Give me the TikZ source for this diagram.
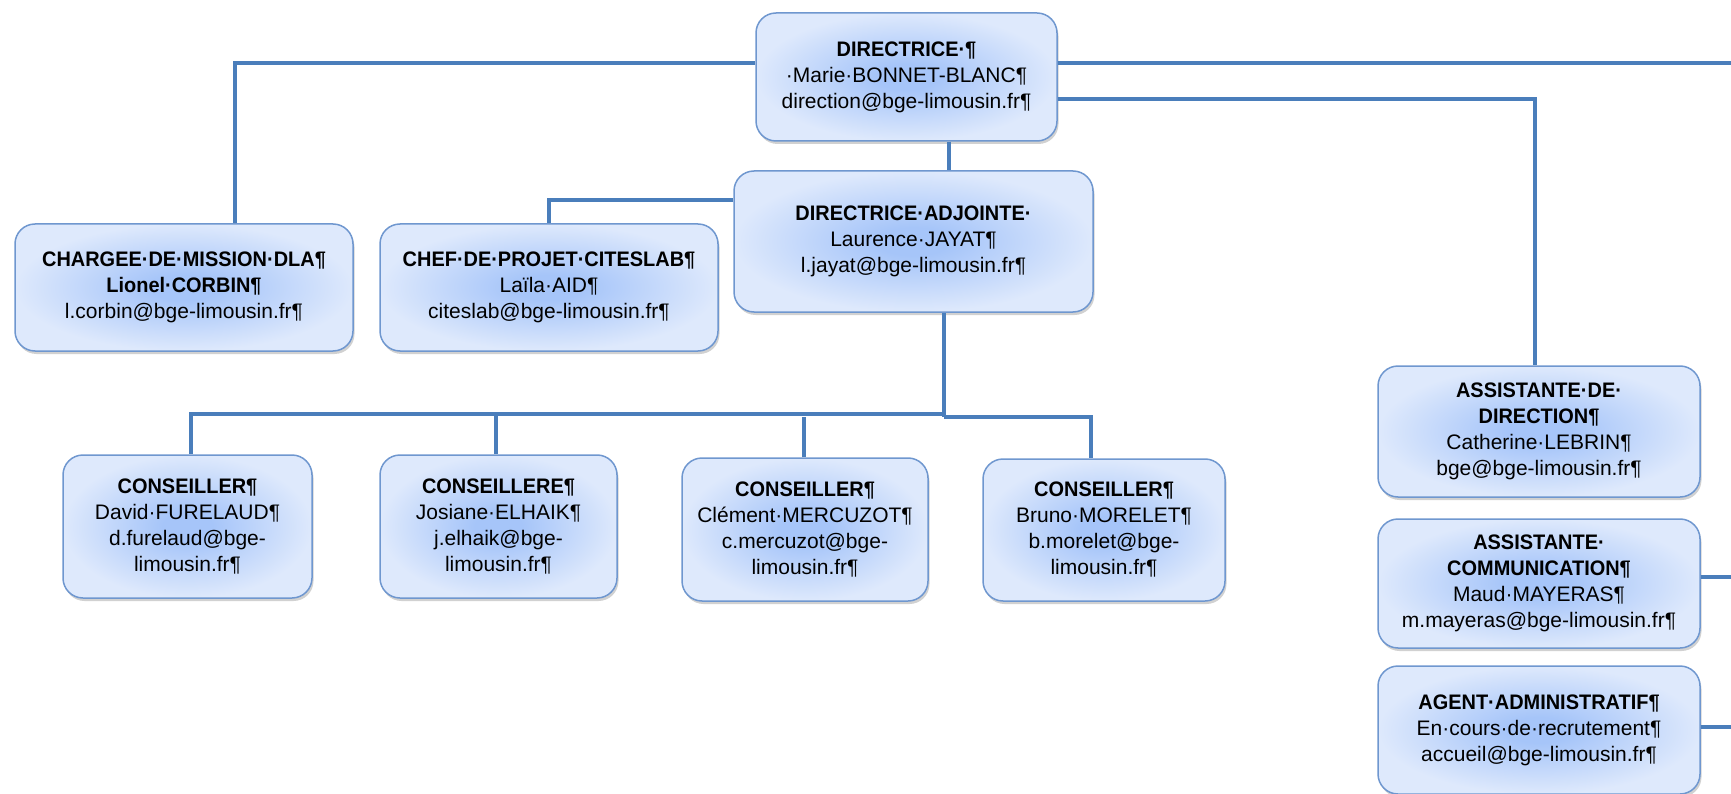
\documentclass[tikz,border=0pt]{standalone}
\usepackage{fontspec}
\setmainfont{Liberation Sans}[BoldFeatures={FakeStretch=0.95}]
\usetikzlibrary{shadows}
\definecolor{linkblue}{HTML}{4A7EBB}
\definecolor{boxedge}{HTML}{6F97CF}
\definecolor{boxin}{HTML}{A6C5F9}
\definecolor{boxout}{HTML}{DEE9FC}
\pgfdeclareradialshading{orgshade}{\pgfpoint{0bp}{0bp}}{color(0bp)=(boxin); color(5bp)=(boxin); color(25bp)=(boxout); color(50bp)=(boxout)}
\tikzset{
  orgbox/.style={draw=boxedge, line width=1.5pt, rounded corners=20pt,
    shading=orgshade, align=center, inner sep=0pt,
    font=\fontsize{21}{26}\selectfont,
    drop shadow={shadow xshift=1.5pt, shadow yshift=-3pt, opacity=0.3, fill=black!60}},
  link/.style={draw=linkblue, line width=4pt}
}
\begin{document}
\begin{tikzpicture}[x=1pt,y=-1pt]
\useasboundingbox (0,0) rectangle (1731,794);
% nodes
\node[orgbox, minimum width=301pt, minimum height=128pt] (dir) at (906.5,77)
  {\textbf{DIRECTRICE·¶}\\·Marie·BONNET-BLANC¶\\direction@bge-limousin.fr¶};
\node[orgbox, minimum width=359pt, minimum height=141pt] (da) at (913.5,241.5)
  {\textbf{DIRECTRICE·ADJOINTE·}\\Laurence·JAYAT¶\\l.jayat@bge-limousin.fr¶};
\node[orgbox, minimum width=338pt, minimum height=127pt] (cm) at (184,287.5)
  {\textbf{CHARGEE·DE·MISSION·DLA¶}\\\textbf{Lionel·CORBIN¶}\\l.corbin@bge-limousin.fr¶};
\node[orgbox, minimum width=338pt, minimum height=127pt] (cp) at (549,287.5)
  {\textbf{CHEF·DE·PROJET·CITESLAB¶}\\Laïla·AID¶\\citeslab@bge-limousin.fr¶};
\node[orgbox, minimum width=249pt, minimum height=143pt] (c1) at (187.5,526.5)
  {\textbf{CONSEILLER¶}\\David·FURELAUD¶\\d.furelaud@bge-\\limousin.fr¶};
\node[orgbox, minimum width=237pt, minimum height=143pt] (c2) at (498.5,526.5)
  {\textbf{CONSEILLERE¶}\\Josiane·ELHAIK¶\\j.elhaik@bge-\\limousin.fr¶};
\node[orgbox, minimum width=246pt, minimum height=143pt] (c3) at (805,529.5)
  {\textbf{CONSEILLER¶}\\Clément·MERCUZOT¶\\c.mercuzot@bge-\\limousin.fr¶};
\node[orgbox, minimum width=242pt, minimum height=142pt] (c4) at (1104,530)
  {\textbf{CONSEILLER¶}\\Bruno·MORELET¶\\b.morelet@bge-\\limousin.fr¶};
\node[orgbox, minimum width=322pt, minimum height=131pt] (ad) at (1539,431.5)
  {\textbf{ASSISTANTE·DE·}\\\textbf{DIRECTION¶}\\Catherine·LEBRIN¶\\bge@bge-limousin.fr¶};
\node[orgbox, minimum width=322pt, minimum height=129pt] (ac) at (1539,583.5)
  {\textbf{ASSISTANTE·}\\\textbf{COMMUNICATION¶}\\Maud·MAYERAS¶\\m.mayeras@bge-limousin.fr¶};
\node[orgbox, minimum width=322pt, minimum height=128pt] (ag) at (1539,730)
  {\textbf{AGENT·ADMINISTRATIF¶}\\En·cours·de·recrutement¶\\accueil@bge-limousin.fr¶};
% free ends
\coordinate (edgeA) at (1731,63);
\coordinate (edgeB) at (1731,577);
\coordinate (edgeC) at (1731,727);
\coordinate (bus) at (944,414);
\coordinate (busR) at (944,417);
% connectors
\draw[link] ([yshift=14pt]dir.west) -| ([xshift=51pt]cm.north);
\draw[link] ([yshift=14pt]dir.east) -- (edgeA);
\draw[link] ([yshift=-22pt]dir.east) -| ([xshift=-4pt]ad.north);
\draw[link] ([xshift=42.5pt]dir.south) -- ([xshift=42.5pt]dir.south |- da.north);
\draw[link] ([yshift=41.5pt]da.west) -| (cp.north);
\draw[link] ([xshift=30.5pt]da.south) -- (busR);
\draw[link] (bus) -| ([xshift=3.5pt]c1.north);
\draw[link] (busR) -| ([xshift=-13pt]c4.north);
\draw[link] ([xshift=-2.5pt]c2.north) -- ([xshift=-2.5pt]c2.north |- bus);
\draw[link] ([xshift=-1pt]c3.north) -- ([xshift=-1pt]c3.north |- busR);
\draw[link] (ac.east |- edgeB) -- (edgeB);
\draw[link] (ag.east |- edgeC) -- (edgeC);
\end{tikzpicture}
\end{document}
